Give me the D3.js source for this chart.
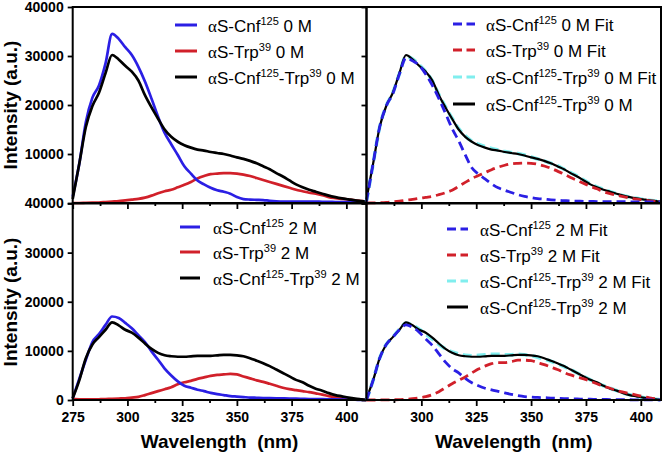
<!DOCTYPE html>
<html>
<head>
<meta charset="utf-8">
<script src="https://cdn.jsdelivr.net/npm/d3@7"></script>
<style>
  body { margin: 0; background: #fff; }
  text { font-family: "Liberation Sans", Arial, sans-serif; white-space: pre; }
</style>
</head>
<body>
<div id="chart"></div>
<script>
// wavelength grid (nm) shared by every curve
var wl = [275, 278, 281, 284, 287, 290, 293, 296, 299, 302, 305, 308, 311, 314, 317, 320,
          323, 326, 329, 332, 335, 338, 341, 344, 347, 350, 353, 356, 359, 362, 365, 368,
          371, 374, 377, 380, 383, 386, 389, 392, 395, 398, 401, 404, 407, 409];

// 0 M measured spectra
var cnf0 = [1300, 8000, 16500, 21500, 24000, 28500, 34500, 33500, 31800, 30200, 27800, 24800, 21300, 17600, 14300, 12000,
            9800, 7500, 6000, 4600, 3800, 3100, 2600, 2300, 1900, 1200, 800, 700, 650, 600, 450, 350,
            300, 300, 300, 300, 300, 300, 250, 250, 200, 200, 200, 200, 200, 200];
var trp0 = [0, 0, 50, 80, 100, 200, 300, 400, 550, 700, 850, 1100, 1500, 2000, 2400, 2700,
            3200, 3700, 4300, 5000, 5500, 5900, 6000, 6100, 6100, 6000, 5800, 5500, 5100, 4700, 4300, 3900,
            3500, 3100, 2700, 2400, 2100, 1900, 1600, 1200, 1000, 850, 700, 550, 400, 300];
var both0 = [800, 8000, 15500, 19800, 22500, 26500, 30200, 29300, 28000, 26800, 25000, 22000, 19500, 17200, 15000, 13500,
             12500, 11800, 11300, 10900, 10700, 10400, 10200, 10000, 9700, 9300, 9000, 8600, 8100, 7500, 6900, 6100,
             5400, 4600, 3800, 3200, 2700, 2300, 1900, 1500, 1200, 950, 750, 550, 400, 300];
// 0 M fits
var cnf0Fit = [300, 8000, 15500, 19800, 22300, 26300, 29600, 29000, 28100, 26300, 24000, 21300, 18300, 15200, 12700, 9800,
               7200, 5900, 4900, 3900, 3100, 2600, 2150, 1700, 1350, 1100, 900, 780, 650, 550, 480, 420,
               380, 340, 320, 300, 290, 280, 270, 260, 250, 240, 230, 220, 210, 200];
var trp0Fit = [0, 30, 60, 120, 250, 400, 580, 750, 950, 1150, 1350, 1700, 2100, 2600, 3400, 4200,
               5000, 5600, 6200, 6800, 7300, 7700, 8000, 8100, 8150, 8100, 7900, 7550, 7100, 6500, 5900, 5200,
               4600, 4000, 3400, 2900, 2300, 1900, 1600, 1300, 1000, 800, 600, 450, 350, 300];
var both0Fit = [300, 8000, 15500, 19800, 22500, 26400, 29900, 29400, 28200, 26800, 24900, 22100, 19600, 17300, 15200, 13700,
                12600, 12000, 11500, 11100, 10800, 10500, 10300, 10100, 9800, 9400, 9000, 8600, 8100, 7600, 6900, 6200,
                5500, 4700, 3900, 3300, 2800, 2300, 1900, 1500, 1200, 950, 750, 550, 400, 300];

// 2 M measured spectra
var cnf2 = [350, 4300, 8200, 11800, 13400, 15300, 17000, 16700, 15700, 14600, 13200, 11800, 9900, 8200, 6400, 5000,
            3800, 2900, 2500, 2100, 1800, 1450, 1200, 1000, 800, 700, 600, 500, 450, 400, 380, 350,
            320, 300, 260, 230, 200, 200, 180, 150, 120, 100, 80, 50, 0, 0];
var trp2 = [200, 150, 120, 120, 150, 200, 250, 300, 350, 500, 650, 1000, 1400, 1800, 2200, 2600,
            3200, 3600, 3900, 4300, 4600, 4900, 5100, 5200, 5300, 5200, 4800, 4400, 4000, 3700, 3300, 2900,
            2500, 2200, 2000, 1800, 1600, 1350, 1100, 800, 600, 450, 300, 150, 50, 0];
var both2 = [350, 4000, 8500, 11300, 12800, 14300, 15800, 15200, 14300, 13700, 12700, 11500, 10400, 9600, 9100, 8900,
             8800, 8800, 8900, 9000, 9000, 9000, 9100, 9200, 9200, 9100, 8900, 8500, 8000, 7500, 6900, 6200,
             5500, 4800, 4100, 3600, 2900, 2300, 1900, 1400, 1000, 750, 500, 300, 150, 50];
// 2 M fits
var cnf2Fit = [0, 4000, 8500, 11300, 12800, 14300, 15300, 14800, 13800, 12400, 11100, 9400, 7700, 6400, 5500, 4400,
               3500, 2900, 2400, 2050, 1750, 1450, 1150, 900, 700, 600, 520, 470, 400, 350, 300, 250,
               210, 180, 150, 130, 110, 90, 70, 60, 50, 40, 30, 20, 10, 0];
var trp2Fit = [0, 0, 10, 20, 40, 80, 150, 280, 450, 680, 1100, 1700, 2500, 3300, 4000, 4700,
               5500, 6300, 6900, 7400, 7600, 7600, 7800, 8100, 8100, 8000, 7600, 7200, 6700, 6200, 5600, 5100,
               4700, 4300, 3800, 3300, 2800, 2400, 1900, 1600, 1300, 1000, 700, 450, 250, 150];
var both2Fit = [0, 4000, 8500, 11300, 12800, 14400, 15600, 15200, 14400, 13400, 12400, 11300, 10400, 9800, 9400, 9100,
                9000, 9100, 9200, 9300, 9300, 9200, 9200, 9300, 9200, 9000, 8700, 8300, 7900, 7400, 6800, 6200,
                5500, 4800, 4100, 3500, 2900, 2400, 1900, 1400, 1050, 750, 500, 300, 150, 100];

var majorTicks = [275, 300, 325, 350, 375, 400];
var minorTicks = [287.5, 312.5, 337.5, 362.5, 387.5];
var yTicks = [0, 10000, 20000, 30000, 40000];

var blue = "#2b1fe4", red = "#d1202a", cyan = "#80eeee";

var width = 664, height = 454;
var svg = d3.select("#chart").append("svg")
    .attr("width", width)
    .attr("height", height);

// little helper for legend texts with a greek alpha and superscripts
function richText(g, x, y, parts) {
    let t = g.append("text").attr("x", x).attr("y", y).attr("font-size", 17);
    let up = false;
    parts.forEach(function (p) {
        let ts = t.append("tspan").text(p.t);
        if (p.greek) ts.attr("font-family", "'Liberation Serif', serif");
        if (p.sup) {
            ts.attr("font-size", 11).attr("dy", up ? 0 : -7);
            up = true;
        } else if (up) {
            ts.attr("dy", 7);
            up = false;
        }
    });
}

function label(sup125, sup39, tail) {
    let parts = [{t: "\u03b1", greek: true}, {t: "S-"}];
    if (sup125) { parts.push({t: "Cnf"}, {t: "125", sup: true}); }
    if (sup125 && sup39) parts.push({t: "-"});
    if (sup39) { parts.push({t: "Trp"}, {t: "39", sup: true}); }
    parts.push({t: tail});
    return parts;
}

function drawPanel(p) {
    let x = d3.scaleLinear().domain([275, 409.2]).range(p.xr);
    let y = d3.scaleLinear().domain([0, 40000]).range(p.yr);
    let g = svg.append("g");

    let line = d3.line()
        .x(function (d) { return x(d[0]); })
        .y(function (d) { return y(d[1]); })
        .curve(d3.curveMonotoneX);

    p.series.forEach(function (s) {
        g.append("path")
            .datum(wl.map(function (w, i) { return [w, s.values[i]]; }))
            .attr("d", line)
            .attr("fill", "none")
            .attr("stroke", s.color)
            .attr("stroke-width", s.w)
            .attr("stroke-dasharray", s.dash || null);
    });

    // x axis, major + minor ticks
    let maj = p.left ? majorTicks : majorTicks.slice(1);
    g.append("g")
        .attr("transform", "translate(0," + p.yr[0] + ")")
        .call(d3.axisBottom(x).tickValues(maj).tickSize(6).tickPadding(6)
            .tickFormat(p.xLabels ? d3.format("d") : ""));
    g.append("g")
        .attr("transform", "translate(0," + p.yr[0] + ")")
        .call(d3.axisBottom(x).tickValues(minorTicks).tickSize(3).tickFormat(""));

    // y axis; the top panel's 0 sits under the lower panel's 40000
    let yFmt = function (d) {
        if (!p.left) return "";
        if (p.top && d === 0) return "";
        return d3.format("d")(d);
    };
    g.append("g")
        .attr("transform", "translate(" + p.xr[0] + ",0)")
        .call(d3.axisLeft(y).tickValues(yTicks).tickSize(5).tickPadding(4).tickFormat(yFmt));

    g.selectAll(".domain").remove();
    g.selectAll(".tick line").attr("stroke", "#000").attr("stroke-width", 1.8);
    g.selectAll(".tick text")
        .attr("fill", "#000")
        .attr("font-family", "'Liberation Sans', Arial, sans-serif")
        .attr("font-weight", "bold")
        .attr("font-size", 14);

    // frame
    g.append("rect")
        .attr("x", p.xr[0]).attr("y", p.yr[1])
        .attr("width", p.xr[1] - p.xr[0]).attr("height", p.yr[0] - p.yr[1])
        .attr("fill", "none").attr("stroke", "#000").attr("stroke-width", 2);

    // legend
    p.legend.forEach(function (e, i) {
        let ly = p.rows[i];
        g.append("line")
            .attr("x1", p.lx[0]).attr("x2", p.lx[1])
            .attr("y1", ly).attr("y2", ly)
            .attr("stroke", e.color).attr("stroke-width", 3)
            .attr("stroke-dasharray", e.dash ? "9,4.5" : null);
        richText(g, p.lx[2], ly + 7, e.parts);
    });
}

var dash = "9,5";

drawPanel({
    xr: [72.7, 366.5], yr: [203, 7], left: true, top: true, xLabels: false,
    series: [
        {values: trp0, color: red, w: 2.7},
        {values: cnf0, color: blue, w: 2.7},
        {values: both0, color: "#000", w: 2.7}
    ],
    lx: [175, 197, 208], rows: [25, 51, 77],
    legend: [
        {color: blue, parts: label(true, false, " 0 M")},
        {color: red, parts: label(false, true, " 0 M")},
        {color: "#000", parts: label(true, true, " 0 M")}
    ]
});

drawPanel({
    xr: [366.5, 661], yr: [203, 7], left: false, top: true, xLabels: false,
    series: [
        {values: both0Fit, color: cyan, w: 3.6, dash: dash},
        {values: both0, color: "#000", w: 2.2},
        {values: trp0Fit, color: red, w: 2.8, dash: dash},
        {values: cnf0Fit, color: blue, w: 2.8, dash: dash}
    ],
    lx: [453, 475, 486], rows: [24, 50, 77, 104],
    legend: [
        {color: blue, dash: true, parts: label(true, false, " 0 M Fit")},
        {color: red, dash: true, parts: label(false, true, " 0 M Fit")},
        {color: cyan, dash: true, parts: label(true, true, " 0 M Fit")},
        {color: "#000", parts: label(true, true, " 0 M")}
    ]
});

drawPanel({
    xr: [72.7, 366.5], yr: [400, 203.5], left: true, top: false, xLabels: true,
    series: [
        {values: trp2, color: red, w: 2.7},
        {values: cnf2, color: blue, w: 2.7},
        {values: both2, color: "#000", w: 2.7}
    ],
    lx: [180, 200, 213], rows: [227, 252, 278],
    legend: [
        {color: blue, parts: label(true, false, " 2 M")},
        {color: red, parts: label(false, true, " 2 M")},
        {color: "#000", parts: label(true, true, " 2 M")}
    ]
});

drawPanel({
    xr: [366.5, 661], yr: [400, 203.5], left: false, top: false, xLabels: true,
    series: [
        {values: both2Fit, color: cyan, w: 3.6, dash: dash},
        {values: both2, color: "#000", w: 2.2},
        {values: trp2Fit, color: red, w: 2.8, dash: dash},
        {values: cnf2Fit, color: blue, w: 2.8, dash: dash}
    ],
    lx: [447, 468, 480], rows: [229, 255, 281, 307],
    legend: [
        {color: blue, dash: true, parts: label(true, false, " 2 M Fit")},
        {color: red, dash: true, parts: label(false, true, " 2 M Fit")},
        {color: cyan, dash: true, parts: label(true, true, " 2 M Fit")},
        {color: "#000", parts: label(true, true, " 2 M")}
    ]
});

// axis titles
[105, 302].forEach(function (cy) {
    svg.append("text")
        .attr("transform", "translate(16.5," + cy + ") rotate(-90)")
        .attr("text-anchor", "middle")
        .attr("font-weight", "bold")
        .attr("font-size", 19)
        .text("Intensity (a.u.)");
});
[219.5, 513.8].forEach(function (cx) {
    svg.append("text")
        .attr("x", cx).attr("y", 448)
        .attr("text-anchor", "middle")
        .attr("font-weight", "bold")
        .attr("font-size", 19)
        .text("Wavelength  (nm)");
});
</script>
</body>
</html>
